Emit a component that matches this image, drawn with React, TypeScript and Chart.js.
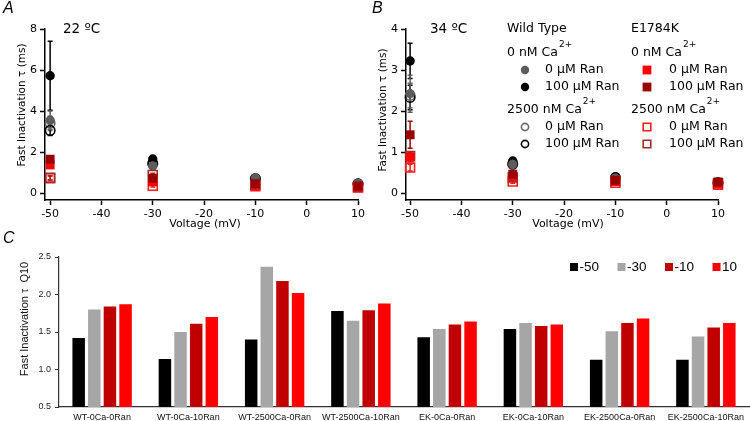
import React, { useEffect, useRef } from "react";
import { Chart, registerables } from "chart.js";
Chart.register(...registerables);

// ---------- DATA ----------
const voltages = [-50, -30, -10, 10];
const voltageTicks = [-50, -40, -30, -20, -10, 0, 10];
const tauTicksA = [0, 2, 4, 6, 8];
const tauTicksB = [0, 1, 2, 3, 4];
const q10Ticks = [0.5, 1.0, 1.5, 2.0, 2.5];

// Panel A: 22 ºC, fast inactivation tau (ms) at -50, -30, -10, 10 mV
const a_WT_0Ca_0Ran = [3.55, 1.32, 0.74, 0.48];
const a_WT_0Ca_100Ran = [5.72, 1.66, 0.7, 0.45];
const a_WT_2500Ca_0Ran = [3.4, 1.4, 0.7, 0.45];
const a_WT_2500Ca_100Ran = [3.05, 1.45, 0.7, 0.45];
const a_EK_0Ca_0Ran = [1.37, 0.55, 0.38, 0.3];
const a_EK_0Ca_100Ran = [1.65, 0.72, 0.45, 0.34];
const a_EK_2500Ca_0Ran = [0.72, 0.35, 0.33, 0.27];
const a_EK_2500Ca_100Ran = [0.75, 0.88, 0.4, 0.3];
// Panel A error (SEM)
const aErr_WT_0Ca_0Ran = [0.45, 0.08, 0.05, 0.03];
const aErr_WT_0Ca_100Ran = [1.68, 0.1, 0.05, 0.03];
const aErr_WT_2500Ca_0Ran = [0.35, 0.08, 0.04, 0.03];
const aErr_WT_2500Ca_100Ran = [0.25, 0.08, 0.04, 0.03];
const aErr_EK_0Ca_0Ran = [0.12, 0.05, 0.04, 0.03];
const aErr_EK_0Ca_100Ran = [0.15, 0.08, 0.04, 0.03];
const aErr_EK_2500Ca_0Ran = [0.1, 0.05, 0.03, 0.02];
const aErr_EK_2500Ca_100Ran = [0.1, 0.08, 0.04, 0.03];

// Panel B: 34 ºC
const b_WT_0Ca_0Ran = [2.42, 0.7, 0.36, 0.26];
const b_WT_0Ca_100Ran = [3.22, 0.78, 0.4, 0.26];
const b_WT_2500Ca_0Ran = [2.38, 0.72, 0.36, 0.25];
const b_WT_2500Ca_100Ran = [2.33, 0.7, 0.37, 0.25];
const b_EK_0Ca_0Ran = [0.88, 0.4, 0.28, 0.22];
const b_EK_0Ca_100Ran = [1.42, 0.46, 0.31, 0.27];
const b_EK_2500Ca_0Ran = [0.62, 0.28, 0.25, 0.2];
const b_EK_2500Ca_100Ran = [0.9, 0.38, 0.3, 0.24];
const bErr_WT_0Ca_0Ran = [0.45, 0.06, 0.03, 0.02];
const bErr_WT_0Ca_100Ran = [0.43, 0.08, 0.03, 0.02];
const bErr_WT_2500Ca_0Ran = [0.3, 0.06, 0.03, 0.02];
const bErr_WT_2500Ca_100Ran = [0.3, 0.06, 0.03, 0.02];
const bErr_EK_0Ca_0Ran = [0.12, 0.05, 0.03, 0.02];
const bErr_EK_0Ca_100Ran = [0.33, 0.08, 0.03, 0.02];
const bErr_EK_2500Ca_0Ran = [0.08, 0.04, 0.02, 0.02];
const bErr_EK_2500Ca_100Ran = [0.1, 0.05, 0.03, 0.02];

// Panel C: Q10
const q10Categories = [
  "WT-0Ca-0Ran", "WT-0Ca-10Ran", "WT-2500Ca-0Ran", "WT-2500Ca-10Ran",
  "EK-0Ca-0Ran", "EK-0Ca-10Ran", "EK-2500Ca-0Ran", "EK-2500Ca-10Ran",
];
const q10Labels = ["-50", "-30", "-10", "10"];
const q10_m50 = [1.42, 1.14, 1.40, 1.78, 1.43, 1.54, 1.13, 1.13];
const q10_m30 = [1.80, 1.50, 2.37, 1.65, 1.54, 1.62, 1.51, 1.44];
const q10_m10 = [1.84, 1.61, 2.18, 1.79, 1.60, 1.58, 1.62, 1.56];
const q10_p10 = [1.87, 1.70, 2.02, 1.88, 1.64, 1.60, 1.68, 1.62];

// ---------- STYLES ----------
const seriesStyle: Record<string, { shape: string; color: string; open: boolean }> = {
  WT_0Ca_0Ran: { shape: "circle", color: "#5c5c5c", open: false },
  WT_0Ca_100Ran: { shape: "circle", color: "#000000", open: false },
  WT_2500Ca_0Ran: { shape: "circle", color: "#666666", open: true },
  WT_2500Ca_100Ran: { shape: "circle", color: "#000000", open: true },
  EK_0Ca_0Ran: { shape: "rect", color: "#ff0000", open: false },
  EK_0Ca_100Ran: { shape: "rect", color: "#990000", open: false },
  EK_2500Ca_0Ran: { shape: "rect", color: "#ff1a1a", open: true },
  EK_2500Ca_100Ran: { shape: "rect", color: "#a02a2a", open: true },
};
// first = drawn on top
const drawOrder = [
  "EK_0Ca_100Ran", "EK_0Ca_0Ran", "EK_2500Ca_100Ran", "EK_2500Ca_0Ran",
  "WT_0Ca_0Ran", "WT_0Ca_100Ran", "WT_2500Ca_100Ran", "WT_2500Ca_0Ran",
];
const barColors = ["#000000", "#a6a6a6", "#c00000", "#ff0000"];

const SANS_AB = "'DejaVu Sans', sans-serif";
const SANS_C = "'Liberation Sans', Arial, sans-serif";

function scatterSets(values: Record<string, number[]>, errors: Record<string, number[]>) {
  return drawOrder.map((key) => {
    const st = seriesStyle[key];
    return {
      label: key,
      data: voltages.map((v, i) => ({ x: v, y: values[key][i] })),
      errors: errors[key],
      errColor: st.color,
      pointStyle: st.shape,
      pointRadius: st.shape === "circle" ? 4.7 : 6.3,
      backgroundColor: st.open ? "rgba(255,255,255,0)" : st.color,
      borderColor: st.color,
      borderWidth: st.open ? 1.6 : 0,
      showLine: false,
      clip: false,
    };
  });
}

const errorBarPlugin = {
  id: "errorBars",
  beforeDatasetsDraw(chart: any) {
    const ctx = chart.ctx;
    const xs = chart.scales.x;
    const ys = chart.scales.y;
    for (let d = chart.data.datasets.length - 1; d >= 0; d--) {
      const ds: any = chart.data.datasets[d];
      if (!ds.errors) continue;
      ctx.save();
      ctx.strokeStyle = ds.errColor;
      ctx.lineWidth = 1.5;
      ds.data.forEach((p: any, i: number) => {
        const e = ds.errors[i];
        if (!e) return;
        const px = xs.getPixelForValue(p.x);
        const yt = ys.getPixelForValue(p.y + e);
        const yb = ys.getPixelForValue(p.y - e);
        ctx.beginPath();
        ctx.moveTo(px, yt);
        ctx.lineTo(px, yb);
        ctx.moveTo(px - 2.5, yt);
        ctx.lineTo(px + 2.5, yt);
        ctx.moveTo(px - 2.5, yb);
        ctx.lineTo(px + 2.5, yb);
        ctx.stroke();
      });
      ctx.restore();
    }
  },
};

function drawMarker(ctx: CanvasRenderingContext2D, key: string, x: number, y: number) {
  const st = seriesStyle[key];
  ctx.save();
  ctx.lineWidth = 1.6;
  ctx.strokeStyle = st.color;
  ctx.fillStyle = st.color;
  ctx.beginPath();
  if (st.shape === "circle") {
    ctx.arc(x, y, st.open ? 3.6 : 4.2, 0, Math.PI * 2);
  } else {
    const s = st.open ? 3.8 : 4.4;
    ctx.rect(x - s, y - s, 2 * s, 2 * s);
  }
  if (st.open) ctx.stroke();
  else ctx.fill();
  ctx.restore();
}

type TextItem = {
  text: string; x: number; y: number; font: string;
  sup?: string; supFont?: string; marker?: string; mx?: number;
  rotate?: boolean; center?: boolean; color?: string;
};

function textPlugin(items: TextItem[]) {
  return {
    id: "panelText",
    afterDraw(chart: any) {
      const ctx = chart.ctx;
      items.forEach((it) => {
        ctx.save();
        ctx.fillStyle = it.color || "#000";
        ctx.textBaseline = "middle";
        ctx.textAlign = it.center || it.rotate ? "center" : "left";
        ctx.font = it.font;
        if (it.rotate) {
          ctx.translate(it.x, it.y);
          ctx.rotate(-Math.PI / 2);
          ctx.fillText(it.text, 0, 0);
          ctx.restore();
          return;
        }
        ctx.fillText(it.text, it.x, it.y);
        if (it.sup) {
          const w = ctx.measureText(it.text).width;
          ctx.font = it.supFont || it.font;
          ctx.fillText(it.sup, it.x + w + 1, it.y - 8);
        }
        if (it.marker) drawMarker(ctx, it.marker, it.mx as number, it.y);
        ctx.restore();
      });
    },
  };
}

function axisCommon(fontSize: number) {
  return {
    grid: { display: true, drawOnChartArea: false, drawTicks: true, tickLength: 5, tickWidth: 1.5, tickColor: "#000" },
    border: { display: true, color: "#000", width: 1.5 },
    ticks: { font: { family: SANS_AB, size: fontSize }, color: "#000", padding: 3 },
  };
}

function scatterConfig(opts: {
  values: Record<string, number[]>;
  errors: Record<string, number[]>;
  xMin: number;
  yMin: number;
  yMax: number;
  yTicks: number[];
  padding: any;
  yWidth: number;
  texts: TextItem[];
}) {
  const c = axisCommon(11);
  return {
    type: "scatter" as const,
    data: { datasets: scatterSets(opts.values, opts.errors) as any },
    options: {
      animation: false as const,
      responsive: false,
      events: [] as any,
      layout: { padding: opts.padding },
      plugins: { legend: { display: false }, tooltip: { enabled: false } },
      scales: {
        x: {
          type: "linear" as const,
          min: opts.xMin,
          max: 10,
          afterBuildTicks: (s: any) => { s.ticks = voltageTicks.map((v) => ({ value: v })); },
          afterFit: (s: any) => { s.height = 35; },
          ...c,
        },
        y: {
          type: "linear" as const,
          min: opts.yMin,
          max: opts.yMax,
          afterBuildTicks: (s: any) => { s.ticks = opts.yTicks.map((v) => ({ value: v })); },
          afterFit: (s: any) => { s.width = opts.yWidth; },
          ...c,
        },
      },
    },
    plugins: [errorBarPlugin, textPlugin(opts.texts)],
  };
}

const legendFont = `12.5px ${SANS_AB}`;
const supFont = `9px ${SANS_AB}`;
const axisTitleFont = `10.5px ${SANS_AB}`;

function App() {
  const refA = useRef<HTMLCanvasElement>(null);
  const refB = useRef<HTMLCanvasElement>(null);
  const refC = useRef<HTMLCanvasElement>(null);

  useEffect(() => {
    const valuesA = {
      WT_0Ca_0Ran: a_WT_0Ca_0Ran, WT_0Ca_100Ran: a_WT_0Ca_100Ran,
      WT_2500Ca_0Ran: a_WT_2500Ca_0Ran, WT_2500Ca_100Ran: a_WT_2500Ca_100Ran,
      EK_0Ca_0Ran: a_EK_0Ca_0Ran, EK_0Ca_100Ran: a_EK_0Ca_100Ran,
      EK_2500Ca_0Ran: a_EK_2500Ca_0Ran, EK_2500Ca_100Ran: a_EK_2500Ca_100Ran,
    };
    const errorsA = {
      WT_0Ca_0Ran: aErr_WT_0Ca_0Ran, WT_0Ca_100Ran: aErr_WT_0Ca_100Ran,
      WT_2500Ca_0Ran: aErr_WT_2500Ca_0Ran, WT_2500Ca_100Ran: aErr_WT_2500Ca_100Ran,
      EK_0Ca_0Ran: aErr_EK_0Ca_0Ran, EK_0Ca_100Ran: aErr_EK_0Ca_100Ran,
      EK_2500Ca_0Ran: aErr_EK_2500Ca_0Ran, EK_2500Ca_100Ran: aErr_EK_2500Ca_100Ran,
    };
    const valuesB = {
      WT_0Ca_0Ran: b_WT_0Ca_0Ran, WT_0Ca_100Ran: b_WT_0Ca_100Ran,
      WT_2500Ca_0Ran: b_WT_2500Ca_0Ran, WT_2500Ca_100Ran: b_WT_2500Ca_100Ran,
      EK_0Ca_0Ran: b_EK_0Ca_0Ran, EK_0Ca_100Ran: b_EK_0Ca_100Ran,
      EK_2500Ca_0Ran: b_EK_2500Ca_0Ran, EK_2500Ca_100Ran: b_EK_2500Ca_100Ran,
    };
    const errorsB = {
      WT_0Ca_0Ran: bErr_WT_0Ca_0Ran, WT_0Ca_100Ran: bErr_WT_0Ca_100Ran,
      WT_2500Ca_0Ran: bErr_WT_2500Ca_0Ran, WT_2500Ca_100Ran: bErr_WT_2500Ca_100Ran,
      EK_0Ca_0Ran: bErr_EK_0Ca_0Ran, EK_0Ca_100Ran: bErr_EK_0Ca_100Ran,
      EK_2500Ca_0Ran: bErr_EK_2500Ca_0Ran, EK_2500Ca_100Ran: bErr_EK_2500Ca_100Ran,
    };

    const chartA = new Chart(refA.current as HTMLCanvasElement, scatterConfig({
      values: valuesA, errors: errorsA,
      xMin: -51, yMin: -0.34, yMax: 8, yTicks: tauTicksA,
      padding: { left: 16, top: 29, right: 12, bottom: 0 }, yWidth: 29,
      texts: [
        { text: "A", x: 3, y: 9, font: `italic 16px ${SANS_C}` },
        { text: "22 ºC", x: 63, y: 29, font: `13.5px ${SANS_AB}` },
        { text: "Fast Inactivation τ (ms)", x: 22.5, y: 105, font: axisTitleFont, rotate: true },
        { text: "Voltage (mV)", x: 205, y: 224, font: `11px ${SANS_AB}`, center: true },
      ],
    }) as any);

    const bx = 370;
    const chartB = new Chart(refB.current as HTMLCanvasElement, scatterConfig({
      values: valuesB, errors: errorsB,
      xMin: -50.8, yMin: -0.17, yMax: 4, yTicks: tauTicksB,
      padding: { left: 6, top: 29, right: 32, bottom: 0 }, yWidth: 30,
      texts: [
        { text: "B", x: 2, y: 9, font: `italic 16px ${SANS_C}` },
        { text: "34 ºC", x: 430 - bx, y: 29, font: `13.5px ${SANS_AB}` },
        { text: "Fast Inactivation τ (ms)", x: 383 - bx, y: 110, font: axisTitleFont, rotate: true },
        { text: "Voltage (mV)", x: 568 - bx, y: 224, font: `11px ${SANS_AB}`, center: true },
        { text: "Wild Type", x: 507 - bx, y: 29, font: legendFont },
        { text: "0 nM Ca", x: 507 - bx, y: 53, font: legendFont, sup: "2+", supFont },
        { text: "0 μM Ran", x: 545 - bx, y: 70, font: legendFont, marker: "WT_0Ca_0Ran", mx: 525 - bx },
        { text: "100 μM Ran", x: 545 - bx, y: 87, font: legendFont, marker: "WT_0Ca_100Ran", mx: 525 - bx },
        { text: "2500 nM Ca", x: 507 - bx, y: 110, font: legendFont, sup: "2+", supFont },
        { text: "0 μM Ran", x: 545 - bx, y: 127, font: legendFont, marker: "WT_2500Ca_0Ran", mx: 525 - bx },
        { text: "100 μM Ran", x: 545 - bx, y: 144, font: legendFont, marker: "WT_2500Ca_100Ran", mx: 525 - bx },
        { text: "E1784K", x: 631 - bx, y: 29, font: legendFont },
        { text: "0 nM Ca", x: 631 - bx, y: 53, font: legendFont, sup: "2+", supFont },
        { text: "0 μM Ran", x: 669 - bx, y: 70, font: legendFont, marker: "EK_0Ca_0Ran", mx: 647 - bx },
        { text: "100 μM Ran", x: 669 - bx, y: 87, font: legendFont, marker: "EK_0Ca_100Ran", mx: 647 - bx },
        { text: "2500 nM Ca", x: 631 - bx, y: 110, font: legendFont, sup: "2+", supFont },
        { text: "0 μM Ran", x: 669 - bx, y: 127, font: legendFont, marker: "EK_2500Ca_0Ran", mx: 647 - bx },
        { text: "100 μM Ran", x: 669 - bx, y: 144, font: legendFont, marker: "EK_2500Ca_100Ran", mx: 647 - bx },
      ],
    }) as any);

    const barSeries = [q10_m50, q10_m30, q10_m10, q10_p10];
    const legendCPlugin = {
      id: "legendC",
      afterDraw(chart: any) {
        const ctx = chart.ctx;
        ctx.save();
        ctx.font = `13.5px ${SANS_C}`;
        ctx.textBaseline = "middle";
        let x = 570;
        const y = 39;
        chart.data.datasets.forEach((ds: any) => {
          ctx.fillStyle = ds.backgroundColor;
          ctx.fillRect(x, y - 4, 8, 8);
          ctx.fillStyle = "#000";
          ctx.fillText(ds.label, x + 9.5, y + 0.5);
          x += 9.5 + ctx.measureText(ds.label).width + 18.5;
        });
        ctx.restore();
      },
    };
    const chartC = new Chart(refC.current as HTMLCanvasElement, {
      type: "bar",
      data: {
        labels: q10Categories,
        datasets: barSeries.map((vals, i) => ({
          label: q10Labels[i],
          data: vals,
          backgroundColor: barColors[i],
          borderWidth: 0,
          barPercentage: 0.8,
          categoryPercentage: 0.725,
        })),
      },
      options: {
        animation: false,
        responsive: false,
        events: [],
        layout: { padding: { left: 18, top: 29, right: 1, bottom: 0 } },
        plugins: { legend: { display: false }, tooltip: { enabled: false } },
        scales: {
          x: {
            grid: { display: false, drawTicks: false },
            border: { display: true, color: "#333", width: 1.2 },
            ticks: { font: { family: SANS_C, size: 9 }, color: "#111", padding: 5, maxRotation: 0, autoSkip: false },
            afterFit: (s: any) => { s.height = 14; },
          },
          y: {
            min: 0.5,
            max: 2.5,
            afterBuildTicks: (s: any) => { s.ticks = q10Ticks.map((v) => ({ value: v })); },
            afterFit: (s: any) => { s.width = 41; },
            grid: { display: true, drawOnChartArea: false, drawTicks: true, tickLength: 4, tickWidth: 1, tickColor: "#333" },
            border: { display: true, color: "#333", width: 1.2 },
            ticks: { font: { family: SANS_C, size: 9 }, color: "#222", padding: 4, callback: (v: any) => Number(v).toFixed(1) },
          },
        },
      },
      plugins: [
        legendCPlugin,
        textPlugin([
          { text: "C", x: 3, y: 11, font: `italic 16px ${SANS_C}` },
          { text: "Fast Inactivation τ  Q10", x: 25, y: 91, font: `11px ${SANS_C}`, rotate: true, color: "#111" },
        ]),
      ],
    } as any);

    return () => {
      chartA.destroy();
      chartB.destroy();
      chartC.destroy();
    };
  }, []);

  return (
    <div style={{ position: "fixed", left: 0, top: 0, width: 750, height: 421, background: "#fff", overflow: "hidden" }}>
      <canvas ref={refA} width={370} height={235} style={{ position: "absolute", left: 0, top: 0 }} />
      <canvas ref={refB} width={380} height={235} style={{ position: "absolute", left: 370, top: 0 }} />
      <canvas ref={refC} width={750} height={193} style={{ position: "absolute", left: 0, top: 228 }} />
    </div>
  );
}

export default App;
